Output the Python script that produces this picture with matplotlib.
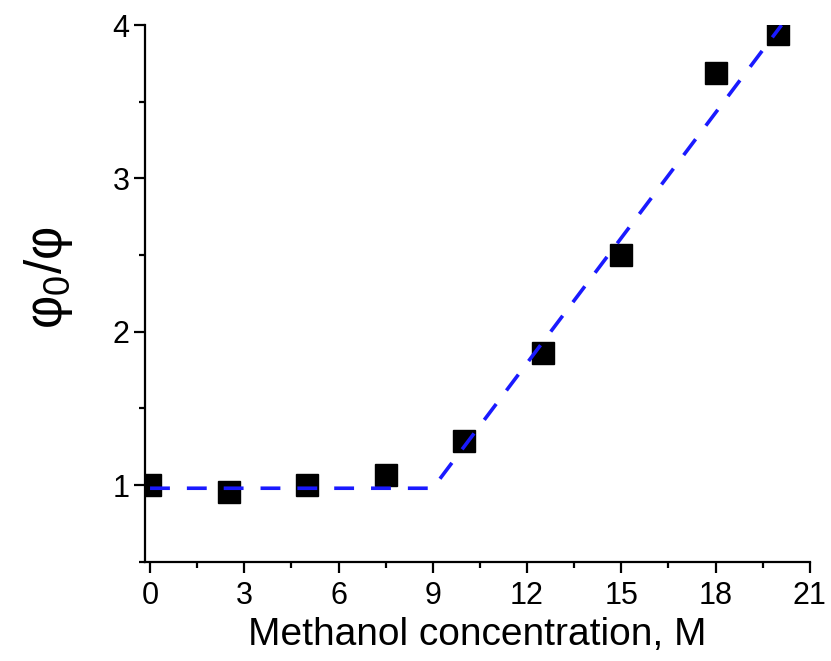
import matplotlib
matplotlib.use("Agg")
import matplotlib.pyplot as plt
from matplotlib.ticker import MultipleLocator

plt.rcParams['font.family'] = ['Liberation Sans', 'DejaVu Sans']
plt.rcParams['mathtext.fontset'] = 'custom'
plt.rcParams['mathtext.rm'] = 'Liberation Sans'

# measured points
conc = [0, 2.5, 5, 7.5, 10, 12.5, 15, 18, 20]
ratio = [1.0, 0.955, 1.0, 1.065, 1.285, 1.865, 2.5, 3.69, 3.94]

# dashed fit (flat then linear)
fit_x = [0, 9, 20.1]
fit_y = [0.98, 0.98, 4.0]

fig = plt.figure(figsize=(8.31, 6.61), dpi=100)
ax = fig.add_axes([0.1745, 0.150, 0.800, 0.812])

ax.plot(conc, ratio, 's', color='black', ms=16, zorder=2)
ax.plot(fit_x, fit_y, color='#1a1aff', lw=2.6, dashes=(5.5, 4.7), zorder=3)

ax.set_xlim(-0.16, 21)
ax.set_ylim(0.5, 4)
ax.xaxis.set_major_locator(MultipleLocator(3))
ax.xaxis.set_minor_locator(MultipleLocator(1.5))
ax.yaxis.set_major_locator(MultipleLocator(1))
ax.yaxis.set_minor_locator(MultipleLocator(0.5))

for s in ['top', 'right']:
    ax.spines[s].set_visible(False)
for s in ['left', 'bottom']:
    ax.spines[s].set_linewidth(1.6)

ax.tick_params(which='major', length=8, width=1.6, labelsize=22, pad=3)
ax.tick_params(axis='x', which='major', pad=6)
ax.tick_params(which='minor', length=4.5, width=1.6)

ax.set_xlabel('Methanol concentration, M', fontsize=28, labelpad=4)
ax.set_ylabel(r'φ$_0$/φ', fontsize=37)
ax.yaxis.set_label_coords(-0.105, 0.53)

fig.savefig('out.png', dpi=100)
